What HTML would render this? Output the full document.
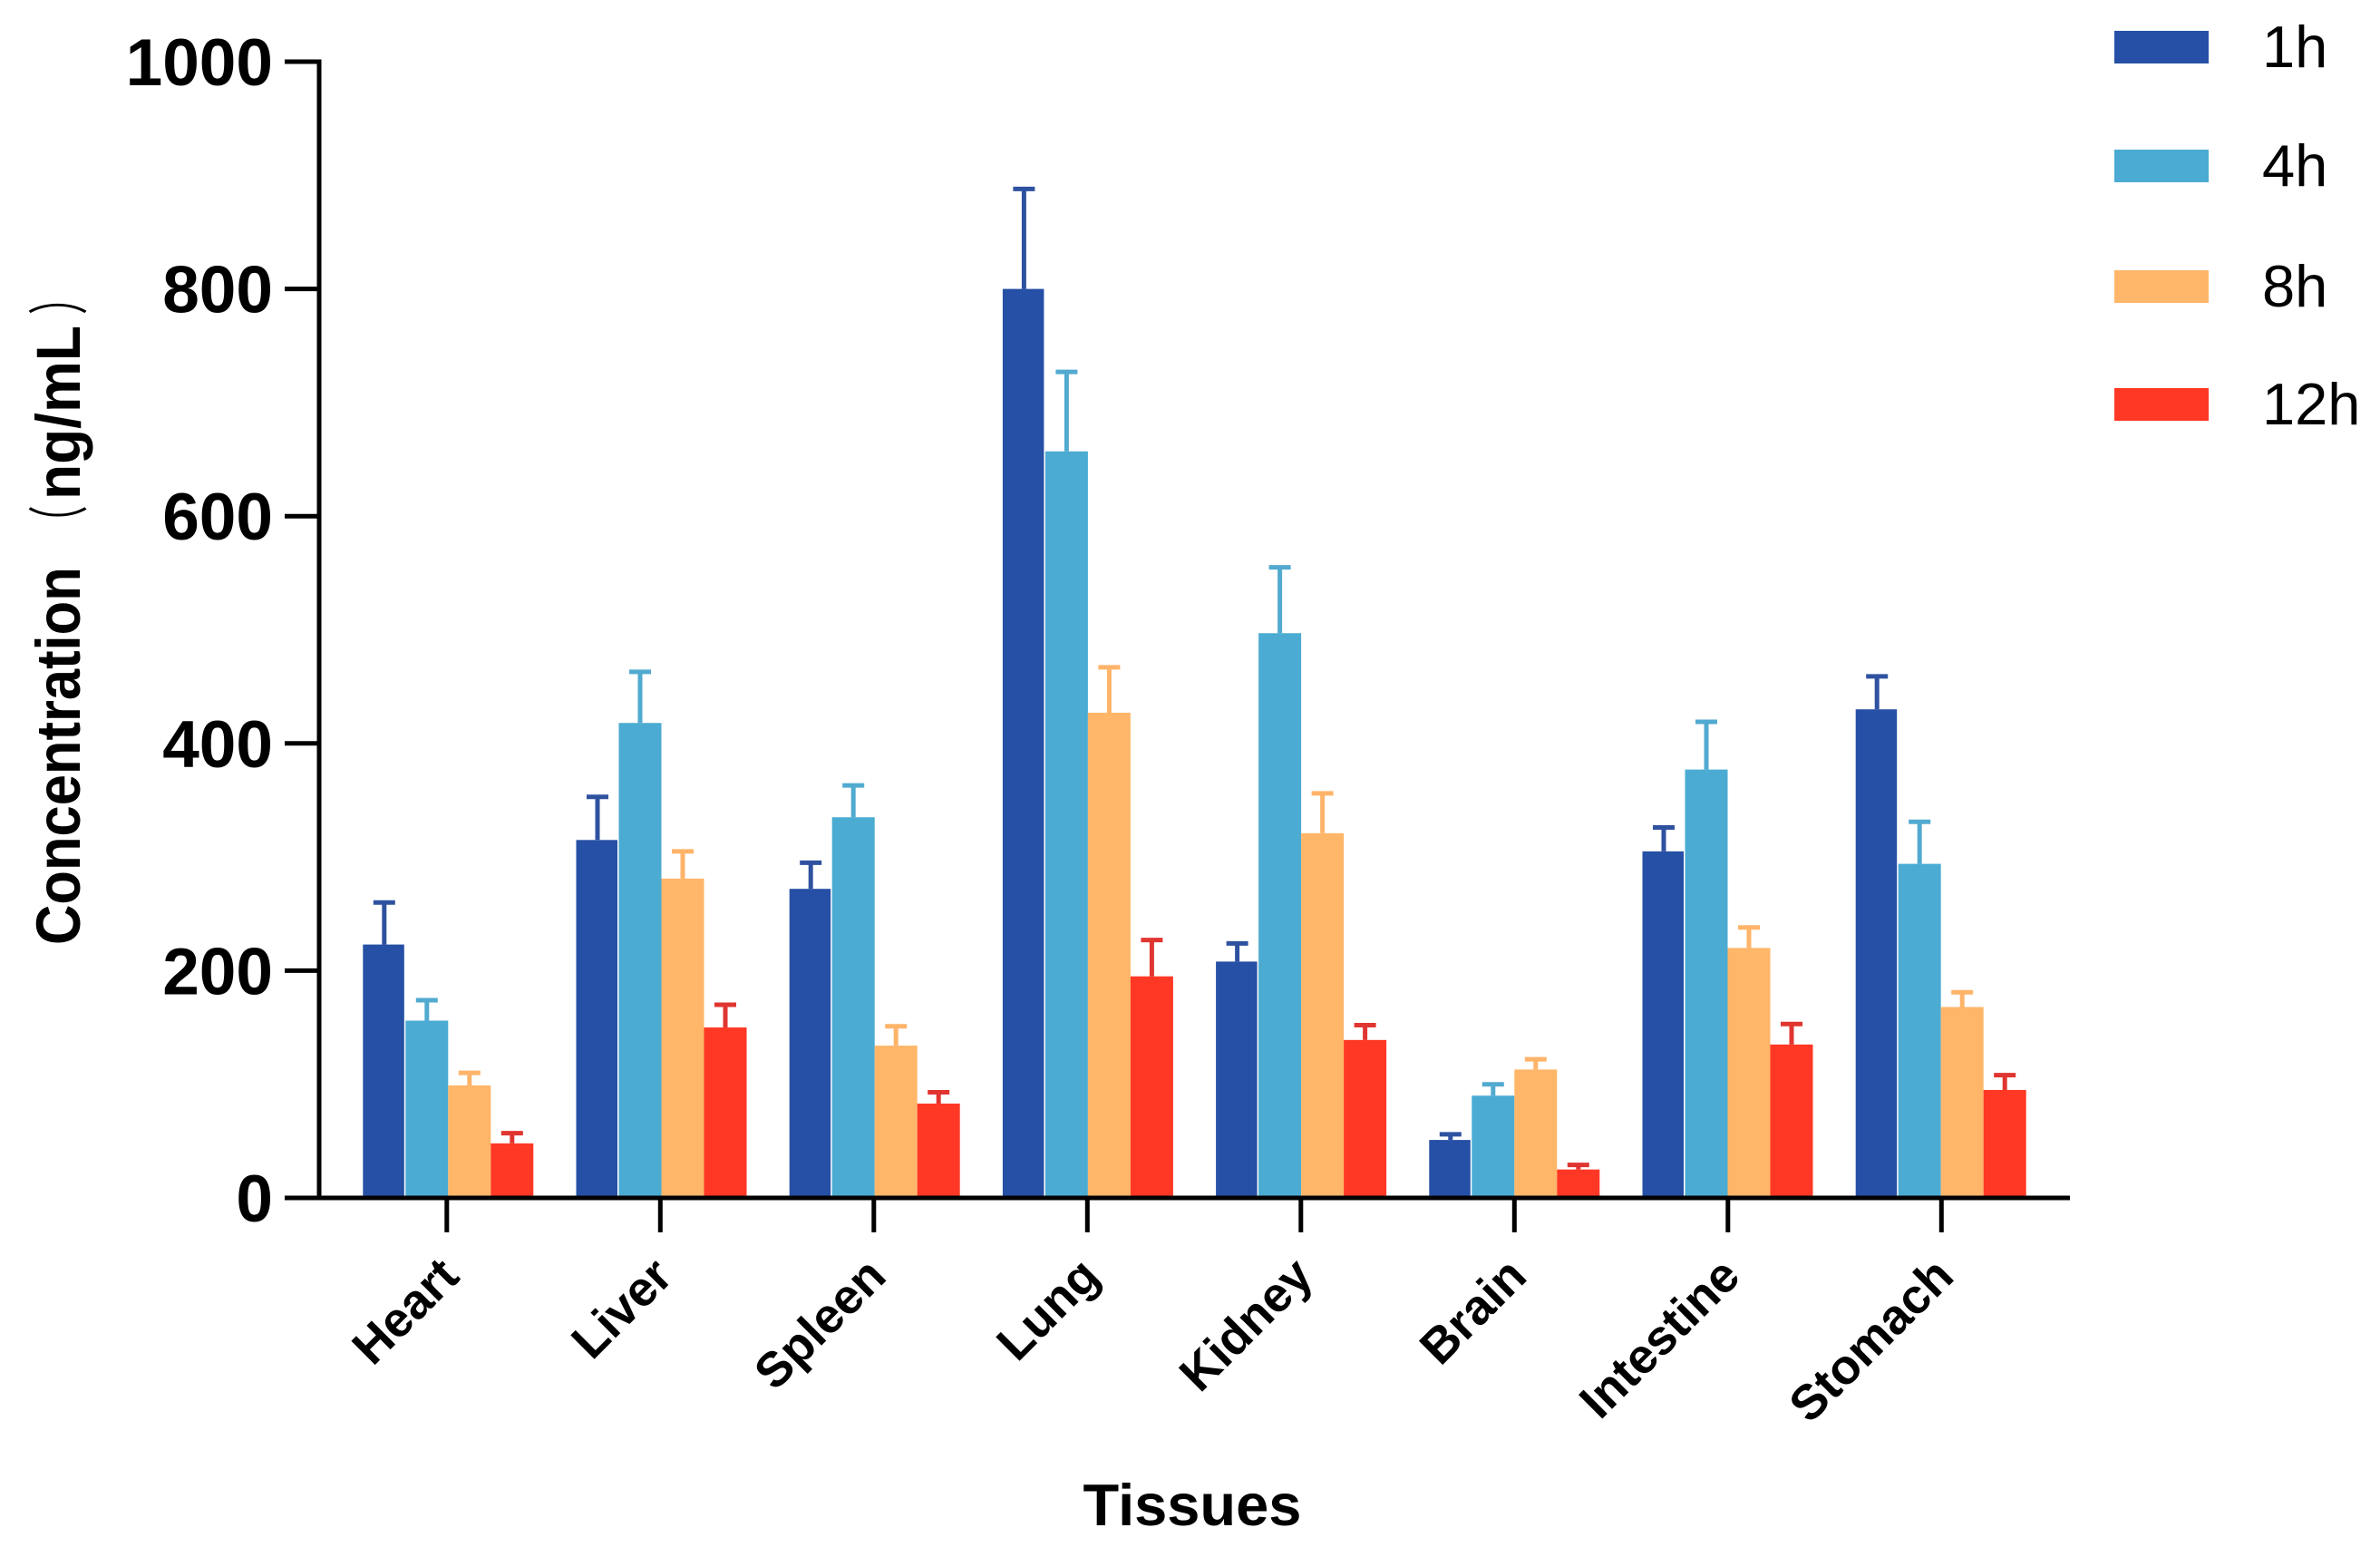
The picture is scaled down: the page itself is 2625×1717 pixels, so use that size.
<!DOCTYPE html>
<html lang="en">
<head>
<meta charset="utf-8">
<title>Tissue concentration bar chart</title>
<style>
html,body{margin:0;padding:0;background:#fff;}
body{width:2625px;height:1717px;overflow:hidden;}
svg{display:block;font-family:"Liberation Sans","Noto Sans CJK SC",sans-serif;}
</style>
</head>
<body>
<svg id="chart" xmlns="http://www.w3.org/2000/svg" width="2625" height="1717" viewBox="0 0 2625 1717">
  <rect x="0" y="0" width="2625" height="1717" fill="#ffffff"/>
  <g fill="#000">
    <text transform="translate(88 1042) rotate(-90) scale(1 1.12)" font-size="61.5" font-weight="700">Concentration</text>
    <text transform="translate(89 597) rotate(-90) scale(0.65 1.1)" font-size="61" font-family="'Noto Sans CJK SC',sans-serif">（</text>
    <text transform="translate(88 551) rotate(-90) scale(1 1.08)" font-size="64" font-weight="700">ng/mL</text>
    <text transform="translate(89 347) rotate(-90) scale(0.65 1.1)" font-size="61" font-family="'Noto Sans CJK SC',sans-serif">）</text>
  </g>
  <text x="1315" y="1682" font-size="65" font-weight="700" fill="#000" text-anchor="middle">Tissues</text>
</svg>
<script>
const categories = ["Heart","Liver","Spleen","Lung","Kidney","Brain","Intestine","Stomach"];
const seriesNames = ["1h","4h","8h","12h"];
const values1h = [223,315,272,800,208,51,305,430];
const values4h = [156,418,335,657,497,90,377,294];
const values8h = [99,281,134,427,321,113,220,168];
const values12h = [48,150,83,195,139,25,135,95];
const errors1h = [37,38,23,88,16,5,21,29];
const errors4h = [18,45,28,70,58,10,42,37];
const errors8h = [11,24,17,40,35,9,18,13];
const errors12h = [9,20,10,32,13,4,18,13];
const yTicks = [0,200,400,600,800,1000];

const seriesValues = [values1h,values4h,values8h,values12h];
const seriesErrors = [errors1h,errors4h,errors8h,errors12h];
const fillColors = ["#2650a5","#4babd2","#ffb669","#ff3825"];
const errorColors = ["#2f52a0","#52aad0","#ffb46a","#e03530"];

const NS = "http://www.w3.org/2000/svg";
const svg = document.getElementById("chart");
const yZero = 1321, yScale = 1.253;
const firstTick = 492.8, tickStep = 235.5;
const firstBarCenter = 494.3, barStep = 235.2;
const barWidth = 47;
function yPos(v){ return yZero - v * yScale; }
function tickX(i){ return firstTick + i * tickStep; }
function barX(i, s){ return firstBarCenter + i * barStep + (s - 2) * barWidth; }
function make(tag, attrs, text){
  const el = document.createElementNS(NS, tag);
  for (const k in attrs) el.setAttribute(k, attrs[k]);
  if (text !== undefined) el.textContent = text;
  svg.appendChild(el);
  return el;
}

seriesValues.forEach(function(vals, s){
  vals.forEach(function(v, i){
    const x = barX(i, s);
    const cx = x + barWidth / 2;
    const top = yPos(v);
    const errTop = yPos(v + seriesErrors[s][i]);
    const stem = make("line", {x1:cx, x2:cx, y1:top, y2:errTop, stroke:errorColors[s], "stroke-width":5});
    
    
    const cap = make("line", {x1:cx-12, x2:cx+12, y1:errTop, y2:errTop, stroke:errorColors[s], "stroke-width":5});
    
    
    const bar = make("rect", {x:x, y:top, width:s === 0 ? barWidth - 1.5 : barWidth, height:yZero - top, fill:fillColors[s]});
    
    
  });
});

const yAxisLine = make("line", {x1:352, x2:352, y1:65.5, y2:1323.5, stroke:"#000", "stroke-width":5});


const xAxisLine = make("line", {x1:314, x2:2283, y1:yZero, y2:yZero, stroke:"#000", "stroke-width":5});



yTicks.forEach(function(t){
  const y = yPos(t);
  const tick = make("line", {x1:314, x2:352, y1:y, y2:y, stroke:"#000", "stroke-width":5});
  
  
  const label = make("text", {x:301, y:y + 26, "font-size":73, "font-weight":700, fill:"#000", "text-anchor":"end"}, String(t));
  
  
});

categories.forEach(function(c, i){
  const x = tickX(i);
  const tick = make("line", {x1:x, x2:x, y1:yZero, y2:1359, stroke:"#000", "stroke-width":5});
  
  
  const label = make("text", {transform:"translate(" + (x + 16) + " 1410) rotate(-45)", "font-size":54, "font-weight":700, fill:"#000", "text-anchor":"end"}, c);
  
  
});

const legendTops = [34,165,298,428];
seriesNames.forEach(function(n, s){
  const swatch = make("rect", {x:2332, y:legendTops[s], width:104, height:36, fill:fillColors[s]});
  
  
  const label = make("text", {x:2495, y:legendTops[s] + 40, "font-size":65, fill:"#000"}, n);
  
  
});
</script>
</body>
</html>
